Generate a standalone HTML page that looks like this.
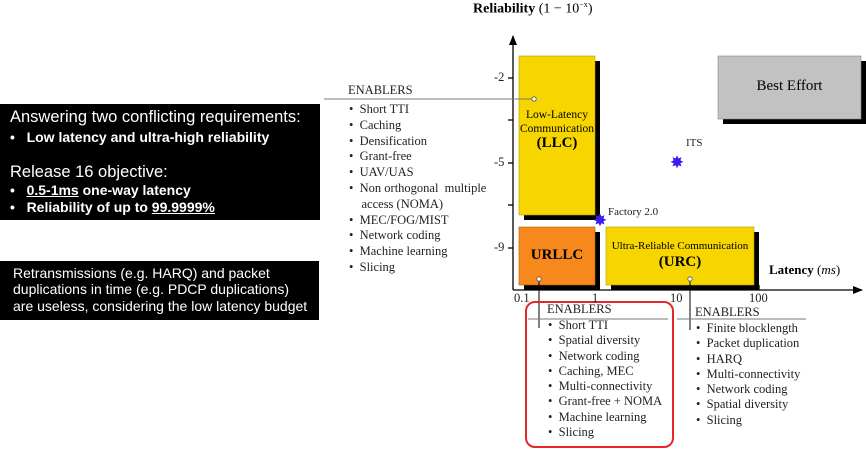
<!DOCTYPE html>
<html><head><meta charset="utf-8"><style>
body{margin:0;width:866px;height:451px;background:#fff;position:relative;overflow:hidden;font-family:"Liberation Serif",serif;}
.a{position:absolute;white-space:nowrap;line-height:1;}
.s{font-family:"Liberation Sans",sans-serif;color:#fff;}
.ser{font-size:12.5px;color:#222;}
</style></head><body>
<div class="a" style="left:0;top:104px;width:320px;height:116px;background:#000"></div>
<div class="a s" style="left:10px;top:109px;font-size:16.5px">Answering two conflicting requirements:</div>
<div class="a s" style="left:10px;top:130px;font-size:14px;font-weight:bold">•&nbsp;&nbsp; Low latency and ultra-high reliability</div>
<div class="a s" style="left:10px;top:164px;font-size:16.5px">Release 16 objective:</div>
<div class="a s" style="left:10px;top:183px;font-size:14px;font-weight:bold">•&nbsp;&nbsp; <u>0.5-1ms</u> one-way latency</div>
<div class="a s" style="left:10px;top:200px;font-size:14px;font-weight:bold">•&nbsp;&nbsp; Reliability of up to <u>99.9999%</u></div>
<div class="a" style="left:0;top:261px;width:319px;height:59px;background:#000"></div>
<div class="a s" style="left:13px;top:266px;font-size:14px">Retransmissions (e.g. HARQ) and packet</div>
<div class="a s" style="left:13px;top:282px;font-size:14px">duplications in time (e.g. PDCP duplications)</div>
<div class="a s" style="left:13px;top:299px;font-size:14px">are useless, considering the low latency budget</div>

<svg class="a" style="left:0;top:0" width="866" height="451">
<defs><marker id="ar" markerWidth="10" markerHeight="8" refX="9" refY="4" orient="auto" markerUnits="userSpaceOnUse"><path d="M0,0L10,4L0,8z" fill="#000"/></marker></defs>
<line x1="513" y1="290" x2="513" y2="36" stroke="#000" stroke-width="1.3" marker-end="url(#ar)"/>
<line x1="513" y1="290" x2="862" y2="290" stroke="#000" stroke-width="1.3" marker-end="url(#ar)"/>
<g stroke="#000" stroke-width="1.3"><line x1="508" y1="78" x2="513" y2="78"/><line x1="508" y1="120" x2="513" y2="120"/><line x1="508" y1="163" x2="513" y2="163"/><line x1="508" y1="205" x2="513" y2="205"/><line x1="508" y1="248" x2="513" y2="248"/>
<line x1="595" y1="285" x2="595" y2="290"/><line x1="677" y1="285" x2="677" y2="290"/><line x1="759" y1="285" x2="759" y2="290"/></g>
<rect x="524" y="61" width="76" height="159" fill="#000"/>
<rect x="519" y="56" width="76" height="159" fill="#f7d600" stroke="#b59c00" stroke-width=".6"/>
<rect x="524" y="232" width="76" height="58" fill="#000"/>
<rect x="519" y="227" width="76" height="58" fill="#f7891c" stroke="#a85a00" stroke-width=".6"/>
<rect x="611" y="232" width="148" height="58" fill="#000"/>
<rect x="606" y="227" width="148" height="58" fill="#f7d600" stroke="#b59c00" stroke-width=".6"/>
<rect x="723" y="61" width="143" height="63" fill="#000"/>
<rect x="718" y="56" width="143" height="63" fill="#c2c2c2" stroke="#888" stroke-width=".6"/>
<line x1="324" y1="99" x2="534" y2="99" stroke="#777" stroke-width="1"/>
<circle cx="534" cy="99" r="2.2" fill="#fff" stroke="#555" stroke-width=".8"/>
<line x1="539" y1="280" x2="539" y2="328" stroke="#000" stroke-width="1"/>
<circle cx="539" cy="279" r="2.2" fill="#fff" stroke="#555" stroke-width=".8"/>
<line x1="690" y1="280" x2="690" y2="330" stroke="#000" stroke-width="1"/>
<circle cx="690" cy="279" r="2.2" fill="#fff" stroke="#555" stroke-width=".8"/>
<line x1="528" y1="319" x2="668" y2="319" stroke="#777" stroke-width="1"/>
<line x1="677" y1="319" x2="806" y2="319" stroke="#777" stroke-width="1"/>
<text x="677" y="168" font-size="17" fill="#3b1cf0" text-anchor="middle">✸</text>
<text x="600" y="226" font-size="17" fill="#3b1cf0" text-anchor="middle">✸</text>
<rect x="526" y="302" width="147" height="145" rx="9" fill="none" stroke="#e8262a" stroke-width="2"/>
</svg>

<div class="a" style="left:473px;top:1px;font-size:14px"><b>Reliability</b> (1 − 10<sup style="font-size:8px">−x</sup>)</div>
<div class="a ser" style="left:494px;top:71px">-2</div>
<div class="a ser" style="left:494px;top:156px">-5</div>
<div class="a ser" style="left:494px;top:241px">-9</div>
<div class="a ser" style="left:514px;top:292px">0.1</div>
<div class="a ser" style="left:592px;top:292px">1</div>
<div class="a ser" style="left:670px;top:292px">10</div>
<div class="a ser" style="left:749px;top:292px">100</div>
<div class="a" style="left:769px;top:263px;font-size:13px"><b>Latency</b> (<i>ms</i>)</div>
<div class="a" style="left:517px;top:108px;width:80px;text-align:center;font-size:11.5px;line-height:14px">Low-Latency<br>Communication<br><b style="font-size:15px">(LLC)</b></div>
<div class="a" style="left:519px;top:248px;width:76px;text-align:center;font-size:15px;font-weight:bold">URLLC</div>
<div class="a" style="left:606px;top:238px;width:148px;text-align:center;font-size:11px;line-height:16px">Ultra-Reliable Communication<br><b style="font-size:15px">(URC)</b></div>
<div class="a" style="left:718px;top:79px;width:143px;text-align:center;font-size:15px">Best Effort</div>
<div class="a ser" style="left:686px;top:138px;font-size:11px">ITS</div>
<div class="a ser" style="left:608px;top:207px;font-size:11px">Factory 2.0</div>

<div class="a ser" style="left:348px;top:84px">ENABLERS</div>
<div class="a ser" style="left:349px;top:102px;line-height:15.8px;white-space:pre">•  Short TTI
•  Caching
•  Densification
•  Grant-free
•  UAV/UAS
•  Non orthogonal  multiple
    access (NOMA)
•  MEC/FOG/MIST
•  Network coding
•  Machine learning
•  Slicing</div>
<div class="a ser" style="left:547px;top:303px">ENABLERS</div>
<div class="a ser" style="left:548px;top:318px;line-height:15.3px;white-space:pre">•  Short TTI
•  Spatial diversity
•  Network coding
•  Caching, MEC
•  Multi-connectivity
•  Grant-free + NOMA
•  Machine learning
•  Slicing</div>
<div class="a ser" style="left:695px;top:306px">ENABLERS</div>
<div class="a ser" style="left:696px;top:321px;line-height:15.3px;white-space:pre">•  Finite blocklength
•  Packet duplication
•  HARQ
•  Multi-connectivity
•  Network coding
•  Spatial diversity
•  Slicing</div>
</body></html>
